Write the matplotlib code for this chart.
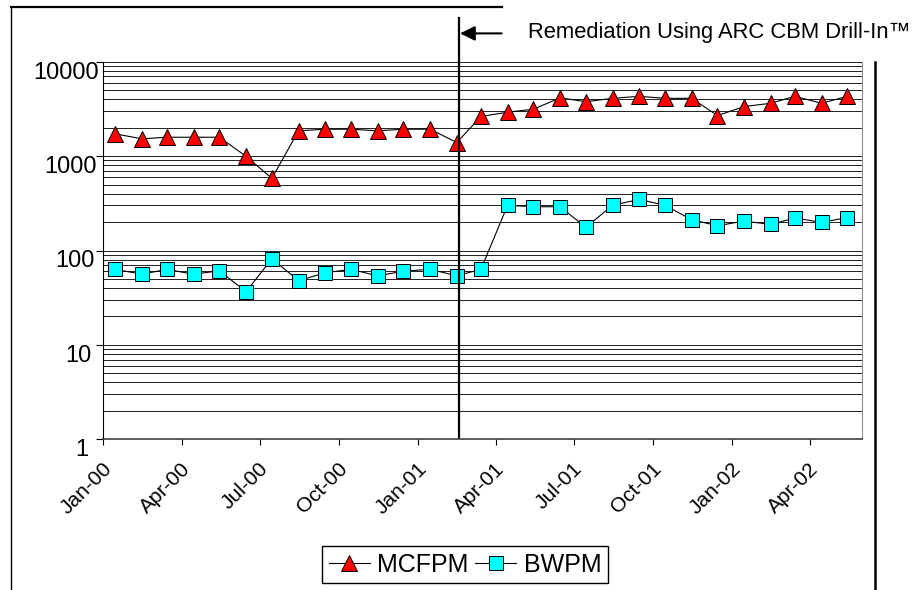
import matplotlib
matplotlib.use("Agg")
import matplotlib.pyplot as plt
import matplotlib.dates as mdates
from matplotlib.ticker import LogLocator, NullFormatter
from matplotlib.transforms import ScaledTranslation
from matplotlib.lines import Line2D
import pandas as pd

plt.rcParams["font.family"] = ["Liberation Sans", "DejaVu Sans"]

# monthly readings, Jan-00 .. May-02 (plotted mid-month)
months = pd.date_range("2000-01-01", "2002-05-01", freq="MS") + pd.Timedelta(days=14)
mcfpm = [1720, 1525, 1585, 1585, 1585, 995, 582, 1853, 1927, 1927, 1853, 1927, 1927, 1393,
         2630, 2917, 3140, 4143, 3770, 4093, 4300, 4093, 4093, 2690, 3350, 3630, 4300, 3630, 4300]
bwpm = [63.2, 56, 63.2, 56, 61, 36.6, 81.9, 47.9, 58.2, 63.2, 53.9, 60.4, 63.2, 54,
        63.2, 301, 291, 291, 176, 301, 348, 301, 212, 183, 205, 189, 221, 199, 223]
remediation_date = mdates.date2num(pd.Timestamp("2001-02-17"))
remediation_label = "Remediation Using ARC CBM Drill-In\u2122"
y_ticks = [1, 10, 100, 1000, 10000]
y_tick_labels = ["1", "10", "100", "1000", "10000"]

fig = plt.figure(figsize=(9.18, 5.9), dpi=100)
ax = fig.add_axes([0.1125, 0.2554, 0.8265, 0.64])

ax.plot(months, mcfpm, color="k", lw=0.8, marker="^", ms=11, mfc="#ff0000",
        mec="k", mew=0.7, label="MCFPM", zorder=3)
ax.plot(months, bwpm, color="k", lw=0.8, marker="s", ms=10, mfc="#00ffff",
        mec="k", mew=0.7, label="BWPM", zorder=3)

ax.set_yscale("log")
ax.set_ylim(1, 10000)
ax.set_xlim(pd.Timestamp("2000-01-01"), pd.Timestamp("2002-06-01"))

ax.set_yticks(y_ticks, y_tick_labels)
ax.yaxis.set_minor_locator(LogLocator(base=10, subs=range(2, 10)))
ax.yaxis.set_minor_formatter(NullFormatter())
ax.grid(which="both", axis="y", color="#202020", lw=0.7)
ax.set_axisbelow(True)

ax.xaxis.set_major_locator(mdates.MonthLocator(bymonth=[1, 4, 7, 10]))
ax.xaxis.set_major_formatter(mdates.DateFormatter("%b-%y"))

ax.tick_params(axis="y", which="major", length=5, width=0.8, pad=-1.5, labelsize=17)
ax.tick_params(axis="y", which="minor", length=0)
ax.tick_params(axis="x", length=4, width=0.8, pad=15, labelsize=15)
for lab in ax.get_xticklabels():
    lab.set_rotation(45)
    lab.set_ha("right")
    lab.set_va("center")
    lab.set_rotation_mode("anchor")
    lab.set_transform(lab.get_transform() + ScaledTranslation(4 / 72, 0, fig.dpi_scale_trans))
# the original's value labels drift slightly left towards the bottom
for lab, dx in zip(ax.get_yticklabels(), [-7, -5, -3, -1, 0.5]):
    lab.set_transform(lab.get_transform() + ScaledTranslation(dx / 72, -6 / 72, fig.dpi_scale_trans))

ax.spines["top"].set_visible(False)
ax.spines["right"].set_color("#909090")
ax.spines["left"].set_color("k")
ax.spines["bottom"].set_color("#404040")
ax.spines["bottom"].set_linewidth(1.2)

# remediation marker line + arrow
ax.plot([remediation_date, remediation_date], [0.007, 1.116], color="k", lw=1.6,
        transform=ax.get_xaxis_transform(), clip_on=False, zorder=5)
ax.annotate("", xy=(remediation_date, 1.075), xycoords=ax.get_xaxis_transform(),
            xytext=(31, 0), textcoords="offset points",
            arrowprops=dict(arrowstyle="-|>,head_length=0.45,head_width=0.22",
                            mutation_scale=20, color="k", lw=1.5, shrinkA=0, shrinkB=1))
fig.text(0.575, 0.936, remediation_label, fontsize=15.8, va="baseline", ha="left")

leg = ax.legend(loc="center", bbox_to_anchor=(0.5065, 0.0429), bbox_transform=fig.transFigure,
                ncol=2, fontsize=18, numpoints=1, handlelength=1.65, handletextpad=0.3,
                columnspacing=0.25, borderpad=0.25, fancybox=False, framealpha=1,
                edgecolor="k")
leg.get_frame().set_linewidth(1.0)

# partial outer frame of the original page
fig.add_artist(Line2D([0.0117, 0.5465], [0.9886, 0.9886], color="k", lw=1.6))
fig.add_artist(Line2D([0.0117, 0.0117], [0.0, 0.9886], color="k", lw=1.0))
fig.add_artist(Line2D([0.953, 0.953], [0.0, 0.895], color="k", lw=1.8))

fig.savefig("out.png", dpi=100)
